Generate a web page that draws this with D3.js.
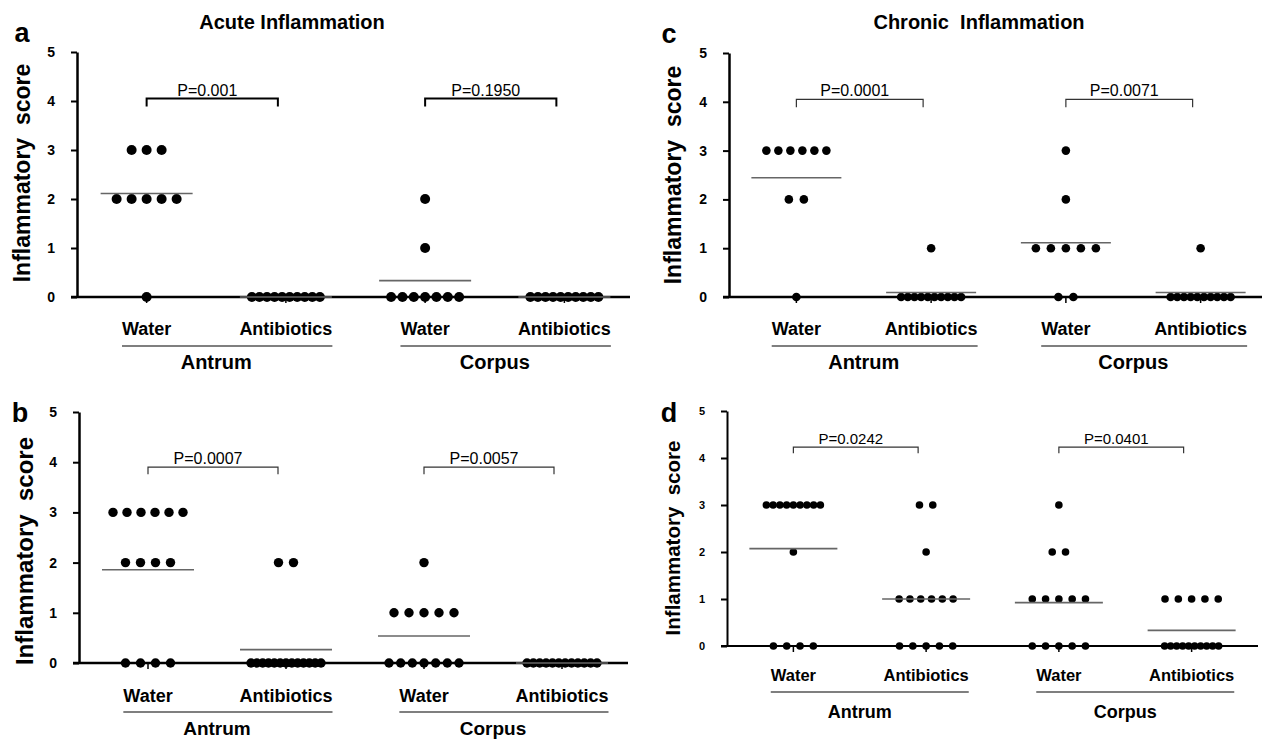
<!DOCTYPE html>
<html>
<head>
<meta charset="utf-8">
<script src="https://cdn.jsdelivr.net/npm/d3@7"></script>
<style>
  body { margin: 0; background: #fff; }
  text { font-family: 'Liberation Sans', Arial, Helvetica, sans-serif; }
</style>
</head>
<body>
<script>
// category and group names
var groupNames = ['Antrum', 'Corpus'];
var treatNames = ['Water', 'Antibiotics'];
var yTicks = [0, 1, 2, 3, 4, 5];

// panel a - acute inflammation
var aAntrumWater = [3, 3, 3, 2, 2, 2, 2, 2, 0];
var aAntrumAbx = [0, 0, 0, 0, 0, 0, 0, 0, 0, 0];
var aCorpusWater = [2, 1, 0, 0, 0, 0, 0, 0, 0];
var aCorpusAbx = [0, 0, 0, 0, 0, 0, 0, 0, 0, 0];
var aPValues = ['P=0.001', 'P=0.1950'];

// panel b - acute inflammation, second set
var bAntrumWater = [3, 3, 3, 3, 3, 3, 2, 2, 2, 2, 0, 0, 0, 0];
var bAntrumAbx = [2, 2, 0, 0, 0, 0, 0, 0, 0, 0, 0, 0, 0, 0, 0];
var bCorpusWater = [2, 1, 1, 1, 1, 1, 0, 0, 0, 0, 0, 0, 0];
var bCorpusAbx = [0, 0, 0, 0, 0, 0, 0, 0, 0, 0, 0, 0];
var bPValues = ['P=0.0007', 'P=0.0057'];

// panel c - chronic inflammation
var cAntrumWater = [3, 3, 3, 3, 3, 3, 2, 2, 0];
var cAntrumAbx = [1, 0, 0, 0, 0, 0, 0, 0, 0, 0, 0];
var cCorpusWater = [3, 2, 1, 1, 1, 1, 1, 0, 0];
var cCorpusAbx = [1, 0, 0, 0, 0, 0, 0, 0, 0, 0, 0];
var cPValues = ['P=0.0001', 'P=0.0071'];

// panel d - chronic inflammation, second set
var dAntrumWater = [3, 3, 3, 3, 3, 3, 3, 3, 3, 2, 0, 0, 0, 0];
var dAntrumAbx = [3, 3, 2, 1, 1, 1, 1, 1, 1, 0, 0, 0, 0, 0];
var dCorpusWater = [3, 2, 2, 1, 1, 1, 1, 1, 0, 0, 0, 0, 0];
var dCorpusAbx = [1, 1, 1, 1, 1, 0, 0, 0, 0, 0, 0, 0, 0, 0, 0];
var dPValues = ['P=0.0242', 'P=0.0401'];

var keys = ['aw', 'aa', 'cw', 'ca'];
var keyLabel = { aw: treatNames[0], aa: treatNames[1], cw: treatNames[0], ca: treatNames[1] };

var panels = [
  { letter: 'a', data: [aAntrumWater, aAntrumAbx, aCorpusWater, aCorpusAbx], p: aPValues,
    title: 'Acute Inflammation', titleX: 292, titleY: 29,
    x0: 77, x1: 634, axisEnd: 630, yTop: 52, yBase: 297,
    tickFont: 14, catFont: 18, groupFont: 20, catBase: 335, lineY: 346, groupBase: 369,
    yLabelX: 22, yLabelY: 173, yLabelFont: 23, letterX: 22, letterY: 42,
    r: 5, gap: 15, maxW: 68, meanHalf: 46,
    bracketV: 4.05, drop: 8, bracketW: 2, bracketColor: '#000', pFont: 16, axisW: 2.5 },
  { letter: 'b', data: [bAntrumWater, bAntrumAbx, bCorpusWater, bCorpusAbx], p: bPValues,
    x0: 79, x1: 631, axisEnd: 628, yTop: 412, yBase: 663,
    tickFont: 14, catFont: 18, groupFont: 19, catBase: 702, lineY: 712, groupBase: 735,
    yLabelX: 24, yLabelY: 551, yLabelFont: 24, letterX: 20, letterY: 422,
    r: 4.7, gap: 15, maxW: 70, meanHalf: 46,
    bracketV: 3.9, drop: 7, bracketW: 1.2, bracketColor: '#333', pFont: 16, axisW: 2.5 },
  { letter: 'c', data: [cAntrumWater, cAntrumAbx, cCorpusWater, cCorpusAbx], p: cPValues,
    title: 'Chronic  Inflammation', titleX: 979, titleY: 29,
    x0: 729, x1: 1268, axisEnd: 1262, yTop: 53, yBase: 297,
    tickFont: 14, catFont: 18, groupFont: 20, catBase: 335, lineY: 346, groupBase: 369,
    yLabelX: 673, yLabelY: 175, yLabelFont: 23, letterX: 669, letterY: 43,
    r: 4.3, gap: 15, maxW: 60, meanHalf: 45,
    bracketV: 4.05, drop: 8, bracketW: 1.2, bracketColor: '#333', pFont: 16, axisW: 2.5 },
  { letter: 'd', data: [dAntrumWater, dAntrumAbx, dCorpusWater, dCorpusAbx], p: dPValues,
    x0: 727, x1: 1258, axisEnd: 1258, yTop: 411, yBase: 646,
    tickFont: 11, catFont: 16.5, groupFont: 18, catBase: 681, lineY: 692, groupBase: 718,
    yLabelX: 673, yLabelY: 538, yLabelFont: 20.5, letterX: 669, letterY: 422,
    r: 3.8, gap: 13.3, maxW: 54, meanHalf: 44,
    bracketV: 4.23, drop: 6, bracketW: 1.2, bracketColor: '#333', pFont: 15, axisW: 2 }
];

var svg = d3.select('body').append('svg')
  .attr('width', 1265)
  .attr('height', 740);

// spread dots with the same score side by side around the category centre
function spread(values, gap, maxW) {
  var out = [];
  d3.groups(values, function(v) { return v; }).forEach(function(g) {
    var n = g[1].length;
    var step = n > 1 ? Math.min(gap, maxW / (n - 1)) : 0;
    g[1].forEach(function(v, i) {
      out.push({ v: v, dx: (i - (n - 1) / 2) * step });
    });
  });
  return out;
}

panels.forEach(function(P) {
  var g = svg.append('g');

  var y = d3.scaleLinear().domain([0, 5]).range([P.yBase, P.yTop]);
  var x = d3.scaleBand().domain(keys).range([P.x0, P.x1]);
  var cx = function(k) { return x(k) + x.bandwidth() / 2; };

  // x axis
  var xAxis = g.append('g')
    .attr('transform', 'translate(0,' + P.yBase + ')')
    .call(d3.axisBottom(x)
      .tickSize(6)
      .tickSizeOuter(0)
      .tickPadding(P.catBase - P.yBase - 6 - 0.71 * P.catFont)
      .tickFormat(function(k) { return keyLabel[k]; }));
  xAxis.select('.domain').remove();
  xAxis.selectAll('.tick line').attr('stroke', '#000').attr('stroke-width', 1.5);
  xAxis.selectAll('.tick text')
    .attr('fill', '#000')
    .style('font-size', P.catFont + 'px')
    .style('font-weight', 'bold');
  g.append('line')
    .attr('x1', P.x0 - 6).attr('x2', P.axisEnd)
    .attr('y1', P.yBase).attr('y2', P.yBase)
    .attr('stroke', '#000').attr('stroke-width', P.axisW);

  // y axis
  var yAxis = g.append('g')
    .attr('transform', 'translate(' + P.x0 + ',0)')
    .call(d3.axisLeft(y)
      .tickValues(yTicks)
      .tickFormat(d3.format('d'))
      .tickSize(6)
      .tickSizeOuter(0)
      .tickPadding(16));
  yAxis.select('.domain').attr('stroke', '#000').attr('stroke-width', P.axisW);
  yAxis.selectAll('.tick line').attr('stroke', '#000').attr('stroke-width', 2);
  yAxis.selectAll('.tick text')
    .attr('fill', '#000')
    .style('font-size', P.tickFont + 'px')
    .style('font-weight', 'bold');

  g.append('text')
    .attr('transform', 'translate(' + P.yLabelX + ',' + P.yLabelY + ') rotate(-90)')
    .attr('text-anchor', 'middle')
    .attr('dy', '0.36em')
    .style('font-size', P.yLabelFont + 'px')
    .style('font-weight', 'bold')
    .style('white-space', 'pre')
    .text('Inflammatory  score');

  g.append('text')
    .attr('x', P.letterX).attr('y', P.letterY)
    .attr('text-anchor', 'middle')
    .style('font-size', '27px')
    .style('font-weight', 'bold')
    .text(P.letter);

  if (P.title) {
    g.append('text')
      .attr('x', P.titleX).attr('y', P.titleY)
      .attr('text-anchor', 'middle')
      .style('font-size', '20px')
      .style('font-weight', 'bold')
      .style('white-space', 'pre')
      .text(P.title);
  }

  // dots and mean lines
  keys.forEach(function(k, i) {
    var vals = P.data[i];
    var c = cx(k);
    g.append('g').selectAll('circle')
      .data(spread(vals, P.gap, P.maxW))
      .join('circle')
      .attr('cx', function(d) { return c + d.dx; })
      .attr('cy', function(d) { return y(d.v); })
      .attr('r', P.r)
      .attr('fill', '#000');
    var m = d3.mean(vals);
    g.append('line')
      .attr('x1', c - P.meanHalf).attr('x2', c + P.meanHalf)
      .attr('y1', y(m)).attr('y2', y(m))
      .attr('stroke', '#666').attr('stroke-width', 1.6);
  });

  // text widths for the group underlines
  var widths = {};
  xAxis.selectAll('.tick').each(function(k) {
    widths[k] = d3.select(this).select('text').node().getComputedTextLength();
  });

  groupNames.forEach(function(name, gi) {
    var kw = keys[gi * 2], ka = keys[gi * 2 + 1];
    var left = cx(kw), right = cx(ka);

    // bracket with p-value
    var by = y(P.bracketV);
    var bx1 = left, bx2 = right - 8;
    g.append('path')
      .attr('d', 'M' + bx1 + ',' + (by + P.drop) + 'V' + by + 'H' + bx2 + 'V' + (by + P.drop))
      .attr('fill', 'none')
      .attr('stroke', P.bracketColor)
      .attr('stroke-width', P.bracketW);
    g.append('text')
      .attr('x', (bx1 + bx2) / 2 - 5).attr('y', by - 3)
      .attr('text-anchor', 'middle')
      .style('font-size', P.pFont + 'px')
      .text(P.p[gi]);

    // group underline and name
    g.append('line')
      .attr('x1', left - widths[kw] / 2).attr('x2', right + widths[ka] / 2)
      .attr('y1', P.lineY).attr('y2', P.lineY)
      .attr('stroke', '#000').attr('stroke-width', 1.2);
    g.append('text')
      .attr('x', (left + right) / 2).attr('y', P.groupBase)
      .attr('text-anchor', 'middle')
      .style('font-size', P.groupFont + 'px')
      .style('font-weight', 'bold')
      .text(name);
  });
});
</script>
</body>
</html>
